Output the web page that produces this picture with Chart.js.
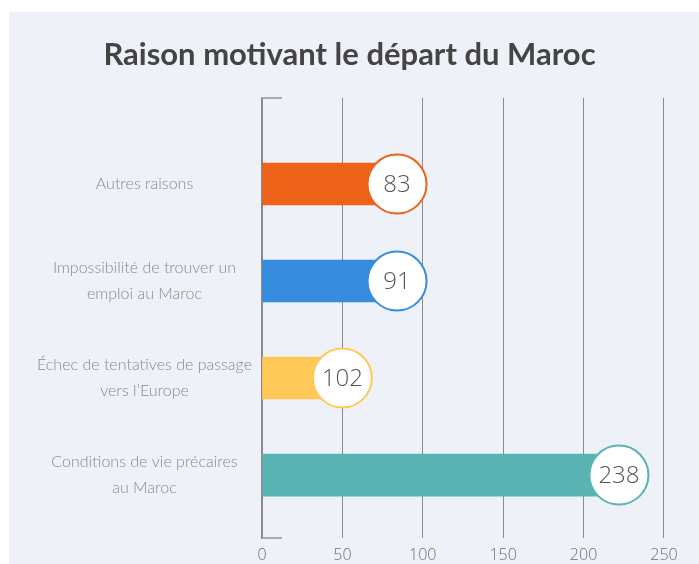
<!DOCTYPE html>
<html>
<head>
<meta charset="utf-8">
<script src="https://cdn.jsdelivr.net/npm/chart.js@4/dist/chart.umd.min.js"></script>
<style>
  html, body { margin: 0; padding: 0; background: #ffffff; }
  #wrap { position: relative; width: 699px; height: 564px; overflow: hidden; }
  #panel { position: absolute; left: 9px; top: 12px; right: 0; bottom: 0; background: #eef1f8; }
  #c { position: absolute; left: 0; top: 0; }
</style>
</head>
<body>
<div id="wrap">
  <div id="panel"></div>
  <canvas id="c" width="699" height="564"></canvas>
</div>
<script>
// ---- data ----
const titleText = 'Raison motivant le départ du Maroc';
const categories = [
  ['Autres raisons'],
  ['Impossibilité de trouver un', 'emploi au Maroc'],
  ['Échec de tentatives de passage', 'vers l\u2019Europe'],
  ['Conditions de vie précaires', 'au Maroc']
];
// bar lengths
const barLengths = [84, 84, 50, 222];
// numbers printed in the circles
const printedValues = [83, 91, 102, 238];
const barColors = ['#ec6219', '#378ddd', '#ffc857', '#5ab4b4'];
const xTicks = [0, 50, 100, 150, 200, 250];

const GRID = '#8c8c8c';

const bubblePlugin = {
  id: 'bubbles',
  beforeDatasetsDraw(chart) {
    const ctx = chart.ctx;
    const a = chart.chartArea;
    ctx.save();
    ctx.strokeStyle = '#a9a9a9';
    ctx.lineWidth = 2;
    ctx.beginPath();
    ctx.moveTo(a.left, a.top); ctx.lineTo(a.left + 20, a.top);
    ctx.moveTo(a.left, a.bottom); ctx.lineTo(a.left + 20, a.bottom);
    ctx.stroke();
    ctx.restore();
  },
  afterDatasetsDraw(chart) {
    const ctx = chart.ctx;
    const meta = chart.getDatasetMeta(0);
    ctx.save();
    meta.data.forEach((bar, i) => {
      ctx.beginPath();
      ctx.arc(bar.x, bar.y, 29.5, 0, Math.PI * 2);
      ctx.fillStyle = '#ffffff';
      ctx.fill();
      ctx.lineWidth = 2;
      ctx.strokeStyle = barColors[i];
      ctx.stroke();
      ctx.fillStyle = '#555555';
      ctx.font = '300 24px "Open Sans"';
      ctx.textAlign = 'center';
      ctx.textBaseline = 'middle';
      ctx.fillText(String(printedValues[i]), bar.x, bar.y + 1);
    });
    ctx.restore();
  }
};

new Chart(document.getElementById('c'), {
  type: 'bar',
  data: {
    datasets: [{
      data: barLengths.map((v, i) => ({ x: v, y: i })),
      backgroundColor: barColors,
      borderWidth: 0,
      barThickness: 42
    }]
  },
  plugins: [bubblePlugin],
  options: {
    indexAxis: 'y',
    responsive: false,
    animation: false,
    devicePixelRatio: 1,
    layout: { padding: { left: 0, right: 0, top: 0, bottom: 0 } },
    plugins: {
      legend: { display: false },
      tooltip: { enabled: false },
      title: {
        display: true,
        text: titleText,
        color: '#444444',
        font: { family: 'Lato', weight: 'bold', size: 31, lineHeight: 1.2 },
        padding: { top: 36, bottom: 24.8 }
      }
    },
    scales: {
      x: {
        type: 'linear',
        position: 'bottom',
        min: 0,
        max: 271.8,
        afterBuildTicks(scale) { scale.ticks = xTicks.map(v => ({ value: v })); },
        afterFit(scale) { scale.height = 26; },
        grid: { color: GRID, lineWidth: 1, drawTicks: false },
        border: { display: false },
        ticks: {
          color: '#707070',
          padding: 8,
          maxRotation: 0,
          font: { family: 'Open Sans', weight: '300', size: 16 }
        }
      },
      y: {
        type: 'linear',
        reverse: true,
        offset: false,
        min: -0.887,
        max: 3.649,
        afterBuildTicks(scale) { scale.ticks = categories.map((c, i) => ({ value: i })); },
        afterFit(scale) { scale.width = 262; },
        grid: { display: false, drawTicks: false, offset: false },
        border: { display: true, color: '#8a8a8a', width: 1.5 },
        ticks: {
          color: '#8a8a8a',
          crossAlign: 'center',
          padding: 10,
          font: { family: 'Lato', weight: '300', size: 16, lineHeight: 1.6 },
          callback: (v) => categories[v]
        }
      }
    }
  }
});
</script>
</body>
</html>
